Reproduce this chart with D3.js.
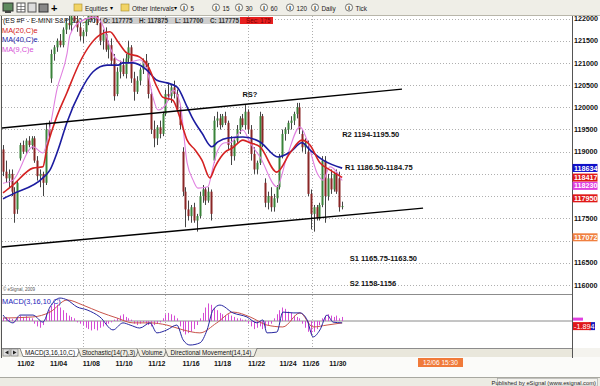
<!DOCTYPE html>
<html>
<head>
<meta charset="utf-8">
<script src="https://cdn.jsdelivr.net/npm/d3@7/dist/d3.min.js"></script>
<style>
  html, body { margin: 0; padding: 0; background: #f4f3ee; }
  svg { display: block; font-family: Arial, "Liberation Sans", sans-serif; }
</style>
</head>
<body>
<svg id="chart" width="600" height="386"></svg>
<script>
// 240 min bars, ES #F, Nov 2010  [open, high, low, close]
const bars = [
  [1190.5, 1191.5, 1184.5, 1185.5], [1185.5, 1188, 1183, 1184], [1184, 1186, 1182, 1185],
  [1185, 1186, 1180, 1181], [1181, 1182, 1174, 1176], [1177, 1183.5, 1176, 1183],
  [1188.5, 1192, 1188, 1191.5], [1191.5, 1192.5, 1189.5, 1190], [1190, 1193, 1189.5, 1192.5],
  [1192.5, 1193.5, 1191, 1191.5], [1191.5, 1193.5, 1190.5, 1193], [1193, 1193.5, 1187.5, 1188],
  [1188, 1189, 1183.5, 1184.5], [1184.5, 1186, 1182, 1185], [1185, 1185.5, 1180, 1183],
  [1183, 1196.5, 1182.5, 1195], [1195, 1197, 1193, 1194], [1206.5, 1213, 1205.5, 1212],
  [1212, 1214, 1210.5, 1213.5], [1213.5, 1215.5, 1212.5, 1215], [1215, 1216.5, 1213.5, 1214],
  [1214, 1218, 1213.5, 1217.5], [1217.5, 1220, 1216.5, 1219], [1219, 1221, 1217.5, 1218.5],
  [1218.5, 1221.5, 1217, 1220.5], [1220.5, 1222, 1219, 1219.5], [1219.5, 1221, 1217, 1218],
  [1218, 1219, 1215, 1216], [1216, 1217.5, 1214.5, 1217], [1217, 1220, 1216, 1219.5],
  [1219.5, 1222, 1218.5, 1221], [1221, 1223, 1219.5, 1220], [1220, 1222.5, 1219, 1221.5],
  [1221.5, 1222.5, 1218.5, 1219], [1219, 1220, 1214, 1215], [1215, 1217.5, 1213, 1216.5],
  [1216.5, 1218, 1212.5, 1213], [1213, 1215, 1211, 1214], [1214, 1215.5, 1209.5, 1210.5],
  [1211, 1212, 1201.5, 1202.5], [1203, 1209, 1202.5, 1208], [1208, 1210.5, 1206.5, 1209.5],
  [1209.5, 1211, 1207, 1207.5], [1207.5, 1212, 1206.5, 1211], [1211, 1215, 1210, 1213.5],
  [1213.5, 1214, 1205.5, 1206.5], [1206.5, 1208, 1201.5, 1203.5], [1203.5, 1207, 1203, 1206],
  [1206, 1209, 1205, 1208.5], [1208.5, 1211, 1207.5, 1210.5], [1210.5, 1212, 1209, 1209.5],
  [1209, 1210, 1202, 1203], [1203, 1204, 1194, 1195], [1195, 1197, 1191, 1193],
  [1193, 1196, 1191.5, 1195.5], [1195.5, 1197, 1193, 1194], [1194, 1199, 1193.5, 1198.5],
  [1198.5, 1204, 1198, 1203], [1203, 1205.5, 1201.5, 1202.5], [1202.5, 1205, 1201, 1204.5],
  [1204.5, 1206, 1202, 1203], [1203, 1204, 1199, 1199.5], [1199.5, 1200.5, 1195, 1196],
  [1190, 1191, 1180, 1181], [1181, 1182, 1173, 1177], [1177, 1179, 1174.5, 1175.5],
  [1175.5, 1178, 1174, 1177.5], [1177.5, 1178.5, 1174, 1174.5], [1174.5, 1176, 1172, 1175.5],
  [1175.5, 1181, 1175, 1180], [1180, 1182.5, 1178.5, 1181.5], [1181.5, 1182, 1178, 1179],
  [1179, 1182, 1178.5, 1181], [1181, 1181.5, 1174.5, 1176], [1188, 1198, 1187.5, 1197],
  [1197, 1199, 1195.5, 1197.5], [1197.5, 1198.5, 1195, 1196], [1196, 1198.5, 1195.5, 1198],
  [1198, 1199, 1196, 1196.5], [1196.5, 1197, 1190.5, 1191.5], [1191.5, 1193.5, 1187, 1189],
  [1189, 1193, 1188, 1192.5], [1192.5, 1196, 1192, 1195], [1195, 1198, 1194, 1197.5],
  [1197.5, 1198.5, 1195.5, 1196], [1196, 1200.5, 1195, 1199], [1199, 1199.5, 1194, 1195],
  [1195, 1196, 1188, 1189.5], [1189.5, 1191, 1185, 1186], [1186, 1188, 1185, 1187.5],
  [1187.5, 1199, 1187, 1198], [1198, 1198.5, 1191, 1192], [1183, 1184, 1177.5, 1178.5],
  [1178.5, 1181, 1177, 1180], [1180, 1182, 1176.5, 1177.5], [1177.5, 1180.5, 1176.5, 1179.5],
  [1179.5, 1182.5, 1178.5, 1182], [1182, 1189.5, 1181.5, 1189], [1189, 1195, 1188.5, 1194],
  [1194, 1195.5, 1192.5, 1195], [1195, 1197, 1194, 1196.5], [1196.5, 1198, 1195, 1197],
  [1197, 1199, 1196, 1198.5], [1198.5, 1201, 1197.5, 1200], [1200, 1201, 1194, 1195],
  [1194, 1195, 1190, 1191], [1191, 1193, 1189.5, 1192], [1190, 1192.5, 1180, 1180.5],
  [1180.5, 1181.5, 1172.5, 1176], [1176, 1178, 1172, 1177.5], [1177.5, 1178, 1174.5, 1175],
  [1175, 1178.5, 1174.5, 1178], [1178, 1189, 1177.5, 1188], [1188, 1189, 1174, 1180],
  [1180, 1185, 1179, 1184], [1184, 1186, 1180.5, 1181.5], [1181.5, 1185.5, 1181, 1185],
  [1185, 1186, 1180.5, 1181], [1184, 1185.5, 1176.5, 1177.5], [1177.75, 1178.75, 1177, 1177.75]
];

// moving averages: [bar index, price]
const ma20 = [[0, 1180.7], [3.5, 1182.5], [10.5, 1186.3], [14, 1186.6], [15.4, 1190.8], [18.2, 1196.7],
  [22.5, 1203.4], [27, 1210.2], [30.5, 1214], [34, 1216.3], [37.5, 1217], [40.4, 1214.7], [43.5, 1212.2],
  [48, 1211.3], [51, 1209.1], [54, 1204.6], [56, 1202.3], [59.6, 1201.6], [62, 1197.8], [64.6, 1192.6],
  [67.4, 1190.4], [69.8, 1188.1], [72.6, 1184.1], [74.4, 1186.6], [77.9, 1189.9], [80.4, 1190.8],
  [84.2, 1192.6], [86.7, 1192], [90.2, 1191.1], [96.1, 1185.4], [100.7, 1189.7], [104.9, 1192.6],
  [107.7, 1191.5], [111.2, 1187.5], [114.7, 1185.9], [119, 1184.2]];
const ma40 = [[0, 1179.4], [3.5, 1180.5], [14, 1184.1], [16.5, 1185.9], [19.3, 1190.4], [22.5, 1196.7],
  [27, 1203.4], [31.6, 1208], [36.5, 1209.5], [40.4, 1209.5], [42.1, 1210], [45.6, 1210], [50.5, 1208.4],
  [54, 1206.1], [57.5, 1205.5], [61, 1204.6], [64.6, 1200.1], [66.3, 1197.8], [69.8, 1194.2],
  [73.3, 1191.1], [75.4, 1192.2], [78.9, 1193.1], [84.2, 1193.3], [90.2, 1192.2], [96.5, 1188.8],
  [100.7, 1189.9], [104.9, 1192], [107.7, 1190.4], [112.3, 1188.1], [119, 1186.3]];
const ma9 = [[0, 1182.9], [3.5, 1183.6], [10.5, 1191.1], [14, 1189.7], [16.5, 1195.6], [18.9, 1203.9],
  [22.5, 1212.2], [23.5, 1216.3], [27, 1219.2], [32.3, 1220.3], [35, 1218.5], [37.5, 1213.6],
  [40, 1210.7], [43.5, 1210], [48, 1210.7], [50.5, 1208.4], [52.6, 1202.3], [54.4, 1199.4],
  [57.5, 1201], [59.6, 1203.9], [62.1, 1201], [64.6, 1187.5], [66.7, 1183.6], [68.4, 1181.8],
  [71.9, 1182.1], [73.7, 1186.6], [75.4, 1190.4], [77.9, 1192], [79.6, 1192], [84.2, 1194.9],
  [86.7, 1192], [90.2, 1188.8], [96.1, 1182.1], [99.6, 1188.8], [104.2, 1195.6], [106.7, 1192.6],
  [110.2, 1185.2], [112.3, 1183.6], [114.7, 1186.6], [119, 1183.5]];

// MACD(3,16,10): [bar index, value]
const macdLine = [[0, 2.2], [3.5, -0.7], [6, 2.2], [10.5, 2.2], [14, -0.4], [16.5, 5.2], [20, 8.5],
  [22.5, 7.8], [26, 5.2], [29.5, 4.1], [34, 1.5], [38.6, -3.3], [42.1, -0.7], [44.6, -1.5], [48, -2.6],
  [51.6, -0.7], [54, -4.4], [57.5, -3.3], [61, -1.5], [63.2, -7], [65.6, -8.9], [69.1, -8.1],
  [71.6, -3.3], [73.7, 4.1], [76.1, 5.9], [80.7, 3], [85.6, 1.5], [89.1, -0.7], [91.2, 0.4],
  [92.6, -4.4], [96.1, -4.1], [98.2, 3.3], [101.8, 3], [104.2, 3], [106.7, 0.4], [108.8, -5.9],
  [111.2, -3.3], [113.7, 2.2], [115.8, -0.4], [119, -0.7]];
const signalLine = [[0, 1.1], [10.5, 1.5], [16.5, 3.3], [22.5, 7.8], [28, 5.9], [34, 3.3], [40, 1.1],
  [45.6, -0.7], [51.6, -0.7], [57.5, -1.5], [63.2, -3.3], [69.1, -4.4], [75, -0.7], [80.7, 3.3],
  [86.7, 1.5], [92.6, -1.5], [98.2, -2.2], [104.2, 3], [108.8, -2.2], [113.7, -1.5], [119, -0.7]];
const macdHist = [1.2, 1.5, 1, 0.8, -0.5, 1, 2, 1.5, 1.8, 1.2, 1,
  -1, -2, -2.5, -1.5,
  2.5, 4, 5.5, 6.5, 6, 5, 4,
  3, 2, 1.5, 1,
  -0.5, -1, -1.5, -2.5, -3, -3.5, -3, -3.5, -2.5, -2, -1.5, -1,
  -0.5, 0.5, 1,
  2, 2.5, 1.5, 1, 0.5,
  -1, -1.5, -1, -0.5, -1, -1.5, -2, -1.5, -1, -0.5,
  1, 2.5, 3, 2.5, 2, 1,
  -2, -4, -5, -4.5, -4, -3, -1.5,
  1, 3, 5, 6.5, 6, 5, 4,
  3, 2.5, 2, 2.5, 2, 1.5, 1, 1, 0.5, 0.5,
  -1, -2, -3, -2.5, -2, -3, -2.5, -1.5,
  -1, 1, 2.5, 4,
  5, 4.5, 3.5, 3, 2, 1.5, 1,
  -1, -2.5, -4, -5, -4, -3, -1.5,
  1, 2, 2.5, 2, 1.5, 2, 1, 1.5];

// channel lines: [index1, price1, index2, price2]
const channelLines = [[-1, 1195.3, 140, 1204.1], [-1, 1168.5, 147.4, 1177.3]];

const noteText = ["RS?", "R2 1194-1195.50", "R1 1186.50-1184.75", "S1 1165.75-1163.50", "S2 1158-1156"];
const noteIdx = [84, 119, 120, 121.7, 121.7];
const notePrice = [1202.9, 1193.9, 1186.4, 1166.1, 1160.4];

const dateLabels = ["11/02", "11/04", "11/08", "11/10", "11/12", "11/16", "11/18", "11/22", "11/24", "11/26", "11/30"];
const dateIdx = [5, 16.5, 28, 39.5, 51, 63, 74, 86, 97, 105, 114.5];
const gridIdx = [28, 57, 86, 108.4];

const priceTicks = d3.range(1160, 1221, 5);
const axisValues = [1186.34, 1184.17, 1182.30, 1179.50, 1170.72];
const axisColors = ["#1010c8", "#e01818", "#e040e0", "#e01818", "#f08040"];

const svg = d3.select("#chart");
const pLeft = 2, pRight = 572, pTop = 16, priceBottom = 294, macdBottom = 348;

const x = d3.scaleLinear().domain([0, 119]).range([3, 342.15]);
const y = d3.scaleLinear().domain([1160, 1220]).range([284.9, 18.5]);
const ym = d3.scaleLinear().domain([-10, 10]).range([348, 294]);

function backgrounds() {
    svg.append("rect").attr("width", 600).attr("height", 386).attr("fill", "#f4f3ee");
    svg.append("rect").attr("width", 600).attr("height", 15).attr("fill", "#efeee7");
    svg.append("line").attr("x1", 0).attr("x2", 600).attr("y1", 15.5).attr("y2", 15.5).attr("stroke", "#b8b6aa");
    svg.append("rect").attr("x", pLeft).attr("y", pTop).attr("width", 598).attr("height", macdBottom - pTop)
        .attr("fill", "#ffffff");
    svg.append("rect").attr("x", pLeft).attr("y", macdBottom).attr("width", pRight - pLeft).attr("height", 9)
        .attr("fill", "#e9e7dc");
    svg.append("rect").attr("x", 0).attr("y", 357).attr("width", 600).attr("height", 20).attr("fill", "#fbfbf9");
    svg.append("rect").attr("x", 0).attr("y", 377).attr("width", 600).attr("height", 9).attr("fill", "#ecebe3");
    svg.append("line").attr("x1", 0).attr("x2", 600).attr("y1", 377.5).attr("y2", 377.5).attr("stroke", "#a8a8a0");
}

function toolbar() {
    const g = svg.append("g");
    // little icons at the far left
    g.append("rect").attr("x", 3).attr("y", 3).attr("width", 10).attr("height", 8).attr("fill", "#5e8a5e").attr("stroke", "#333");
    g.append("rect").attr("x", 5).attr("y", 11).attr("width", 6).attr("height", 2).attr("fill", "#444");
    g.append("rect").attr("x", 17).attr("y", 3).attr("width", 8).attr("height", 9).attr("fill", "#fff").attr("stroke", "#555");
    g.append("path").attr("d", "M17,6.5H25M17,9.5H25M21,3V12").attr("stroke", "#555").attr("stroke-width", 0.7);
    g.append("rect").attr("x", 28).attr("y", 3).attr("width", 8).attr("height", 9).attr("fill", "#ddd").attr("stroke", "#555");
    g.append("rect").attr("x", 39).attr("y", 4).attr("width", 9).attr("height", 8).attr("fill", "#888").attr("stroke", "#333");
    g.append("text").attr("x", 51).attr("y", 11.5).attr("font-size", 11).attr("font-weight", "bold").text("+");
    const folders = [74, 121];
    for (const fx of folders) {
        g.append("rect").attr("x", fx).attr("y", 4).attr("width", 8).attr("height", 7).attr("fill", "#f2d466").attr("stroke", "#a58a2a").attr("stroke-width", 0.6);
    }
    g.append("text").attr("x", 85).attr("y", 10.5).attr("font-size", 6.4).attr("fill", "#222").text("Equities");
    g.append("text").attr("x", 110).attr("y", 10).attr("font-size", 5.5).text("\u25BE");
    g.append("text").attr("x", 132).attr("y", 10.5).attr("font-size", 6.4).attr("fill", "#222").text("Other Intervals");
    g.append("text").attr("x", 174).attr("y", 10).attr("font-size", 5.5).text("\u25BE");
    const iconX = [184, 216, 239, 264, 290, 315, 349];
    const iconText = ["5", "15", "30", "60", "120", "Daily", "Tick"];
    iconX.forEach(function (cx, k) {
        g.append("circle").attr("cx", cx).attr("cy", 7.5).attr("r", 3.6).attr("fill", "#f7f7f2").attr("stroke", "#444").attr("stroke-width", 0.7);
        g.append("text").attr("x", cx).attr("y", 9.6).attr("font-size", 5.5).attr("text-anchor", "middle").attr("font-weight", "bold").text("I");
        g.append("text").attr("x", cx + 6.5).attr("y", 10.5).attr("font-size", 6.4).attr("fill", "#222").text(iconText[k]);
    });
}

function grid() {
    const g = svg.append("g");
    g.selectAll(".hgrid").data(priceTicks).enter().append("line")
        .attr("x1", pLeft).attr("x2", pRight)
        .attr("y1", d => Math.round(y(d)) + 0.5).attr("y2", d => Math.round(y(d)) + 0.5)
        .attr("stroke", "#9a9a9a").attr("stroke-width", 0.8).attr("stroke-dasharray", "1,2");
    g.selectAll(".vgrid").data(gridIdx).enter().append("line")
        .attr("x1", d => Math.round(x(d)) + 0.5).attr("x2", d => Math.round(x(d)) + 0.5)
        .attr("y1", pTop).attr("y2", macdBottom)
        .attr("stroke", "#9a9a9a").attr("stroke-width", 0.8).attr("stroke-dasharray", "1,2");
}

function priceLabels() {
    const g = svg.append("g");
    g.append("text").attr("x", 3).attr("y", 23).attr("font-size", 7.2).attr("fill", "#111")
        .attr("textLength", 95).attr("lengthAdjust", "spacingAndGlyphs")
        .text("(ES #F - E-MINI S&P 500,240)");
    g.append("rect").attr("x", 100).attr("y", 17).attr("width", 140).attr("height", 7).attr("fill", "#cfcfcf");
    g.append("rect").attr("x", 240).attr("y", 17).attr("width", 33).attr("height", 7).attr("fill", "#e82020");
    const ohlc = ["O: 117775", "H: 117875", "L: 117700", "C: 117775"];
    const ohlcX = [103, 139, 175, 210];
    ohlc.forEach((t, k) => g.append("text").attr("x", ohlcX[k]).attr("y", 22.6).attr("font-size", 6.3)
        .attr("font-weight", "bold").attr("fill", "#333").text(t));
    g.append("text").attr("x", 246).attr("y", 22.6).attr("font-size", 6.3).attr("fill", "#7a0000").text("Sec: 175");
    const legend = ["MA(20,C)e", "MA(40,C)e", "MA(9,C)e"];
    const legendColor = ["#d42020", "#1a1aa8", "#d650d6"];
    legend.forEach((t, k) => g.append("text").attr("x", 2).attr("y", 32.5 + k * 9.5).attr("font-size", 7.4)
        .attr("fill", legendColor[k]).text(t));
}

function candles() {
    const g = svg.append("g").attr("clip-path", "url(#priceClip)");
    g.selectAll(".wick").data(bars).enter().append("line")
        .attr("x1", (d, i) => Math.round(x(i)) + 0.5).attr("x2", (d, i) => Math.round(x(i)) + 0.5)
        .attr("y1", d => y(d[1])).attr("y2", d => y(d[2]))
        .attr("stroke", "#444").attr("stroke-width", 1);
    g.selectAll(".body").data(bars).enter().append("rect")
        .attr("x", (d, i) => Math.round(x(i)) - 0.5)
        .attr("y", d => y(Math.max(d[0], d[3])))
        .attr("width", 2)
        .attr("height", d => Math.max(1, Math.abs(y(d[0]) - y(d[3]))))
        .attr("fill", d => d[3] >= d[0] ? "#3a843a" : "#8a2626");
}

function movingAverages() {
    const g = svg.append("g").attr("clip-path", "url(#priceClip)");
    const line = d3.line().x(d => x(d[0])).y(d => y(d[1])).curve(d3.curveMonotoneX);
    g.append("path").attr("d", line(ma9)).attr("fill", "none").attr("stroke", "#e080e0").attr("stroke-width", 1.1);
    g.append("path").attr("d", line(ma40)).attr("fill", "none").attr("stroke", "#1c1ca0").attr("stroke-width", 1.6);
    g.append("path").attr("d", line(ma20)).attr("fill", "none").attr("stroke", "#d42222").attr("stroke-width", 1.6);
}

function channels() {
    const g = svg.append("g").attr("clip-path", "url(#priceClip)");
    g.selectAll(".channel").data(channelLines).enter().append("line")
        .attr("x1", d => x(d[0])).attr("y1", d => y(d[1]))
        .attr("x2", d => x(d[2])).attr("y2", d => y(d[3]))
        .attr("stroke", "#000").attr("stroke-width", 1.4);
    g.selectAll(".note").data(noteText).enter().append("text")
        .attr("x", (d, i) => x(noteIdx[i])).attr("y", (d, i) => y(notePrice[i]) + 2.8)
        .attr("font-size", 7.5).attr("font-weight", "bold").attr("fill", "#111")
        .text(d => d);
    svg.append("text").attr("x", 3).attr("y", 291).attr("font-size", 4.5).attr("fill", "#555").text("\u00A9 eSignal, 2009");
}

function rightAxis() {
    const g = svg.append("g");
    // tick labels hidden behind the coloured value boxes are left out
    const visibleTicks = priceTicks.filter(t => axisValues.every(v => Math.abs(y(t) - y(v)) > 7.5));
    g.selectAll(".tick").data(visibleTicks).enter().append("text")
        .attr("x", 574).attr("y", d => y(d) + 2.6)
        .attr("font-size", 7.2).attr("font-weight", "bold").attr("fill", "#111")
        .text(d => String(d * 100));
    axisValues.forEach(function (v, k) {
        g.append("rect").attr("x", 572.5).attr("y", y(v) - 4).attr("width", 25).attr("height", 8).attr("fill", axisColors[k]);
        g.append("text").attr("x", 574).attr("y", y(v) + 2.6).attr("font-size", 7.2).attr("font-weight", "bold")
            .attr("fill", "#fff").text(Math.round(v * 100));
    });
    // macd readout
    g.append("rect").attr("x", 573).attr("y", ym(-1.894) - 8.5).attr("width", 10).attr("height", 3).attr("fill", "#e040e0");
    g.append("rect").attr("x", 589).attr("y", ym(-1.894) - 4).attr("width", 6).attr("height", 8).attr("fill", "#1a1ac0");
    g.append("rect").attr("x", 573).attr("y", ym(-1.894) - 4).attr("width", 18).attr("height", 8).attr("fill", "#e01818");
    g.append("text").attr("x", 574).attr("y", ym(-1.894) + 2.6).attr("font-size", 7.2).attr("fill", "#fff").text("-1.894");
}

function macdPane() {
    const g = svg.append("g");
    g.append("line").attr("x1", pLeft).attr("x2", pRight).attr("y1", ym(0)).attr("y2", ym(0)).attr("stroke", "#8a8a8a");
    g.selectAll(".hist").data(macdHist).enter().append("line")
        .attr("x1", (d, i) => Math.round(x(i)) + 0.5).attr("x2", (d, i) => Math.round(x(i)) + 0.5)
        .attr("y1", ym(0)).attr("y2", d => ym(d))
        .attr("stroke", "#d44cd4").attr("stroke-width", 1);
    const line = d3.line().x(d => x(d[0])).y(d => ym(d[1])).curve(d3.curveMonotoneX);
    g.append("path").attr("d", line(signalLine)).attr("fill", "none").attr("stroke", "#c8544a").attr("stroke-width", 1);
    g.append("path").attr("d", line(macdLine)).attr("fill", "none").attr("stroke", "#2626a0").attr("stroke-width", 1);
    g.append("text").attr("x", 2).attr("y", 303.5).attr("font-size", 7.4).attr("fill", "#2323b8").text("MACD(3,16,10,C)");
}

function frames() {
    svg.append("line").attr("x1", pLeft).attr("x2", pRight).attr("y1", priceBottom + 0.5).attr("y2", priceBottom + 0.5).attr("stroke", "#8c8c8c");
    svg.append("line").attr("x1", pLeft).attr("x2", pRight).attr("y1", macdBottom + 0.5).attr("y2", macdBottom + 0.5).attr("stroke", "#8c8c8c");
    svg.append("line").attr("x1", pRight + 0.5).attr("x2", pRight + 0.5).attr("y1", pTop).attr("y2", 358).attr("stroke", "#555");
    svg.append("line").attr("x1", 1.5).attr("x2", 1.5).attr("y1", pTop).attr("y2", 358).attr("stroke", "#555");
}

function tabs() {
    const g = svg.append("g");
    g.append("rect").attr("x", 3).attr("y", 349).attr("width", 7).attr("height", 7).attr("fill", "#ddd").attr("stroke", "#777").attr("stroke-width", 0.6);
    g.append("rect").attr("x", 11).attr("y", 349).attr("width", 7).attr("height", 7).attr("fill", "#ddd").attr("stroke", "#777").attr("stroke-width", 0.6);
    g.append("path").attr("d", "M8.5,350.5L5,352.5L8.5,354.5Z").attr("fill", "#222");
    g.append("path").attr("d", "M13,350.5L16.5,352.5L13,354.5Z").attr("fill", "#222");
    const tabText = ["MACD(3,16,10,C)", "Stochastic(14(7),3)", "Volume", "Directional Movement(14,14)"];
    const tabX = [[20, 80], [78, 139], [137, 167], [165, 257]];
    tabText.forEach(function (t, k) {
        const a = tabX[k][0], b = tabX[k][1];
        g.append("path").attr("d", `M${a},348.5L${a + 3},356.5L${b - 3},356.5L${b},348.5`)
            .attr("fill", k === 0 ? "#ffffff" : "#f1efe6").attr("stroke", "#555").attr("stroke-width", 0.7);
        g.append("text").attr("x", (a + b) / 2).attr("y", 355).attr("text-anchor", "middle").attr("font-size", 6.3)
            .attr("fill", "#111").text(t);
    });
}

function dateAxis() {
    svg.selectAll(".date").data(dateLabels).enter().append("text")
        .attr("x", (d, i) => x(dateIdx[i])).attr("y", 365.5)
        .attr("font-size", 7).attr("font-weight", "bold").attr("fill", "#111")
        .text(d => d);
    svg.append("rect").attr("x", 418).attr("y", 358).attr("width", 45).attr("height", 9).attr("fill", "#f07a3a");
    svg.append("text").attr("x", 440.5).attr("y", 365).attr("text-anchor", "middle").attr("font-size", 6.6)
        .attr("fill", "#fff").text("12/06 15:30");
    svg.append("rect").attr("x", 497.5).attr("y", 378.5).attr("width", 100).attr("height", 7.5)
        .attr("fill", "#f4f3ee").attr("stroke", "#a0a0a0").attr("stroke-width", 0.6);
    svg.append("text").attr("x", 596).attr("y", 384.5).attr("text-anchor", "end").attr("font-size", 5.8)
        .attr("fill", "#222").text("Published by eSignal (www.esignal.com)");
}

svg.append("defs").append("clipPath").attr("id", "priceClip")
    .append("rect").attr("x", pLeft).attr("y", pTop).attr("width", pRight - pLeft).attr("height", priceBottom - pTop);

backgrounds();
toolbar();
grid();
priceLabels();
candles();
movingAverages();
channels();
macdPane();
frames();
rightAxis();
tabs();
dateAxis();
</script>
</body>
</html>
